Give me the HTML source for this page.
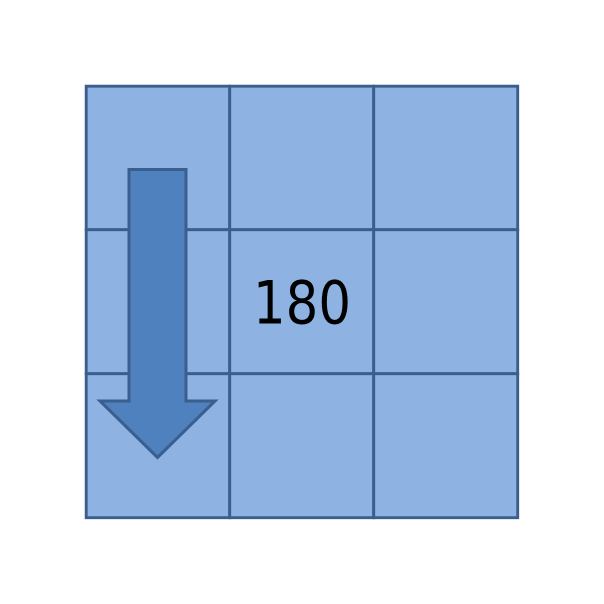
<!DOCTYPE html>
<html>
<head>
<meta charset="utf-8">
<title>Grid with arrow</title>
<style>
html,body{margin:0;padding:0;background:#fff;}
svg{display:block;}
</style>
</head>
<body>
<svg width="604" height="604" viewBox="0 0 604 604" xmlns="http://www.w3.org/2000/svg">
  <rect x="0" y="0" width="604" height="604" fill="#ffffff"/>
  <g fill="#8eb2e1" stroke="#3a5f8e" stroke-width="2.9">
    <rect x="86.2" y="86.2" width="143.5" height="143.5"/>
    <rect x="229.7" y="86.2" width="144" height="143.5"/>
    <rect x="373.7" y="86.2" width="144" height="143.5"/>
    <rect x="86.2" y="229.7" width="143.5" height="144"/>
    <rect x="229.7" y="229.7" width="144" height="144"/>
    <rect x="373.7" y="229.7" width="144" height="144"/>
    <rect x="86.2" y="373.7" width="143.5" height="144"/>
    <rect x="229.7" y="373.7" width="144" height="144"/>
    <rect x="373.7" y="373.7" width="144" height="144"/>
  </g>
  <polygon points="129,169.5 186,169.5 186,401 215,401 157.5,457.5 100,401 129,401" fill="#4e81bd" stroke="#3a5f8e" stroke-width="3" stroke-linejoin="miter"/>
  <text x="253" y="323.5" font-family="'DejaVu Sans', 'Liberation Sans', sans-serif" font-size="60" fill="#000000" textLength="98" lengthAdjust="spacingAndGlyphs">180</text>
</svg>
</body>
</html>
